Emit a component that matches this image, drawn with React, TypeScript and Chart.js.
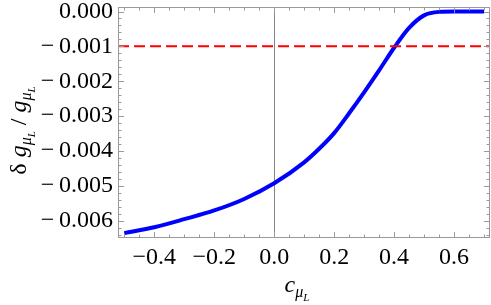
import React, { useEffect, useRef } from "react";
import { Chart, registerables } from "chart.js";

Chart.register(...registerables);

const SERIF = '"Liberation Serif", serif';
Chart.defaults.font.family = SERIF;

// ---- data ----
const cValues = [-0.5, -0.4, -0.3, -0.2, -0.1, 0.0, 0.1, 0.15, 0.2, 0.25, 0.3, 0.35, 0.4, 0.45, 0.5, 0.55, 0.6, 0.65, 0.7];
const deltaG = [-0.00636, -0.00619, -0.00596, -0.00571, -0.00538, -0.00493, -0.00433, -0.00394, -0.00349, -0.00292, -0.00232, -0.00169, -0.00104, -0.00047, -0.00011, -0.00001, 0, 0, 0];
const thresholdValue = -0.001;
const xTicks = [-0.4, -0.2, 0.0, 0.2, 0.4, 0.6];
const yTicks = [0.0, -0.001, -0.002, -0.003, -0.004, -0.005, -0.006];
const xRange = [-0.521, 0.72];
const yRange = [-0.0065, 0.00013];

const FRAME = "#9a9a9a";

type Run = { text: string; size: number; italic?: boolean; dy?: number };

function drawRuns(ctx: CanvasRenderingContext2D, runs: Run[], cx: number, cy: number, rot: number) {
  ctx.save();
  ctx.translate(cx, cy);
  ctx.rotate(rot);
  ctx.textBaseline = "alphabetic";
  ctx.textAlign = "left";
  ctx.fillStyle = "#000";
  let total = 0;
  const widths: number[] = [];
  for (const r of runs) {
    ctx.font = `${r.italic ? "italic " : ""}${r.size}px ${SERIF}`;
    const w = ctx.measureText(r.text).width;
    widths.push(w);
    total += w;
  }
  let x = -total / 2;
  runs.forEach((r, i) => {
    ctx.font = `${r.italic ? "italic " : ""}${r.size}px ${SERIF}`;
    ctx.fillText(r.text, x, 7 + (r.dy || 0));
    x += widths[i];
  });
  ctx.restore();
}

const framePlugin = {
  id: "mmaFrame",
  beforeDatasetsDraw(chart: any) {
    const { ctx, chartArea: a, scales } = chart;
    const x0 = scales.x.getPixelForValue(0);
    ctx.save();
    ctx.strokeStyle = "#888";
    ctx.lineWidth = 1;
    ctx.beginPath();
    ctx.moveTo(Math.round(x0) + 0.5, a.top);
    ctx.lineTo(Math.round(x0) + 0.5, a.bottom);
    ctx.stroke();
    ctx.restore();
  },
  afterDraw(chart: any) {
    const { ctx, chartArea: a, scales } = chart;
    const xs = scales.x;
    const ys = scales.y;
    ctx.save();
    ctx.strokeStyle = FRAME;
    ctx.lineWidth = 1;
    ctx.strokeRect(a.left + 0.5, a.top + 0.5, a.right - a.left - 1, a.bottom - a.top - 1);
    ctx.beginPath();
    for (let k = -10; k <= 14; k++) {
      const v = k * 0.05;
      if (v < xRange[0] || v > xRange[1]) continue;
      const major = k % 4 === 0;
      const len = major ? 6 : 3.5;
      const px = Math.round(xs.getPixelForValue(v)) + 0.5;
      ctx.moveTo(px, a.bottom);
      ctx.lineTo(px, a.bottom - len);
      ctx.moveTo(px, a.top);
      ctx.lineTo(px, a.top + len);
    }
    for (let k = -32; k <= 0; k++) {
      const v = k * 0.0002;
      if (v < yRange[0] || v > yRange[1]) continue;
      const major = k % 5 === 0;
      const len = major ? 6 : 3.5;
      const py = Math.round(ys.getPixelForValue(v)) + 0.5;
      ctx.moveTo(a.left, py);
      ctx.lineTo(a.left + len, py);
      ctx.moveTo(a.right, py);
      ctx.lineTo(a.right - len, py);
    }
    ctx.stroke();
    ctx.restore();

    drawRuns(
      ctx,
      [
        { text: "c", size: 24, italic: true },
        { text: "μ", size: 16, italic: true, dy: 5 },
        { text: "L", size: 11, italic: true, dy: 9 },
      ],
      (a.left + a.right) / 2 - 7,
      285,
      0
    );
    drawRuns(
      ctx,
      [
        { text: "δ ", size: 24 },
        { text: "g", size: 24, italic: true },
        { text: "μ", size: 16, italic: true, dy: 5 },
        { text: "L", size: 11, italic: true, dy: 9 },
        { text: " / ", size: 24 },
        { text: "g", size: 24, italic: true },
        { text: "μ", size: 16, italic: true, dy: 5 },
        { text: "L", size: 11, italic: true, dy: 9 },
      ],
      19,
      (a.top + a.bottom) / 2 + 8,
      -Math.PI / 2
    );
  },
};

const fmt = (v: number, d: number, gap: string) => {
  const s = Math.abs(v) < 1e-12 ? (0).toFixed(d) : v.toFixed(d);
  return s.replace("-", "\u2212" + gap);
};

export default function App() {
  const ref = useRef<HTMLCanvasElement | null>(null);
  useEffect(() => {
    if (!ref.current) return;
    const chart = new Chart(ref.current, {
      type: "line",
      data: {
        datasets: [
          {
            data: [
              { x: xRange[0], y: thresholdValue },
              { x: xRange[1], y: thresholdValue },
            ],
            borderColor: "#ff0000",
            borderWidth: 2,
            borderDash: [11, 5],
            pointRadius: 0,
          },
          {
            data: cValues.map((c, i) => ({ x: c, y: deltaG[i] })),
            borderColor: "#0000ff",
            borderWidth: 4,
            pointRadius: 0,
            cubicInterpolationMode: "monotone",
          },
        ],
      },
      options: {
        responsive: false,
        animation: false,
        devicePixelRatio: 1,
        layout: { padding: { top: 7, right: 1, left: 0, bottom: 0 } },
        plugins: { legend: { display: false }, tooltip: { enabled: false } },
        scales: {
          x: {
            type: "linear",
            min: xRange[0],
            max: xRange[1],
            grid: { display: false, drawTicks: false },
            border: { display: false },
            afterBuildTicks: (s: any) => {
              s.ticks = xTicks.map((v) => ({ value: v }));
            },
            afterFit: (s: any) => {
              s.height = 67;
              s.paddingLeft = 0;
              s.paddingRight = 0;
            },
            ticks: {
              padding: 5,
              color: "#000",
              maxRotation: 0,
              autoSkip: false,
              font: { family: SERIF, size: 24 },
              callback: (v: any) => fmt(Number(v), 1, ""),
            },
          },
          y: {
            type: "linear",
            min: yRange[0],
            max: yRange[1],
            grid: { display: false, drawTicks: false },
            border: { display: false },
            afterBuildTicks: (s: any) => {
              s.ticks = yTicks.map((v) => ({ value: v }));
            },
            afterFit: (s: any) => {
              s.width = 118;
              s.paddingTop = 0;
              s.paddingBottom = 0;
            },
            ticks: {
              padding: 5,
              color: "#000",
              autoSkip: false,
              font: { family: SERIF, size: 24 },
              callback: (v: any) => fmt(Number(v), 3, "\u2009"),
            },
          },
        },
      },
      plugins: [framePlugin],
    });
    return () => chart.destroy();
  }, []);
  return (
    <div style={{ position: "fixed", left: 0, top: 0, width: 491, height: 305, background: "#fff" }}>
      <canvas ref={ref} width={491} height={305} />
    </div>
  );
}
